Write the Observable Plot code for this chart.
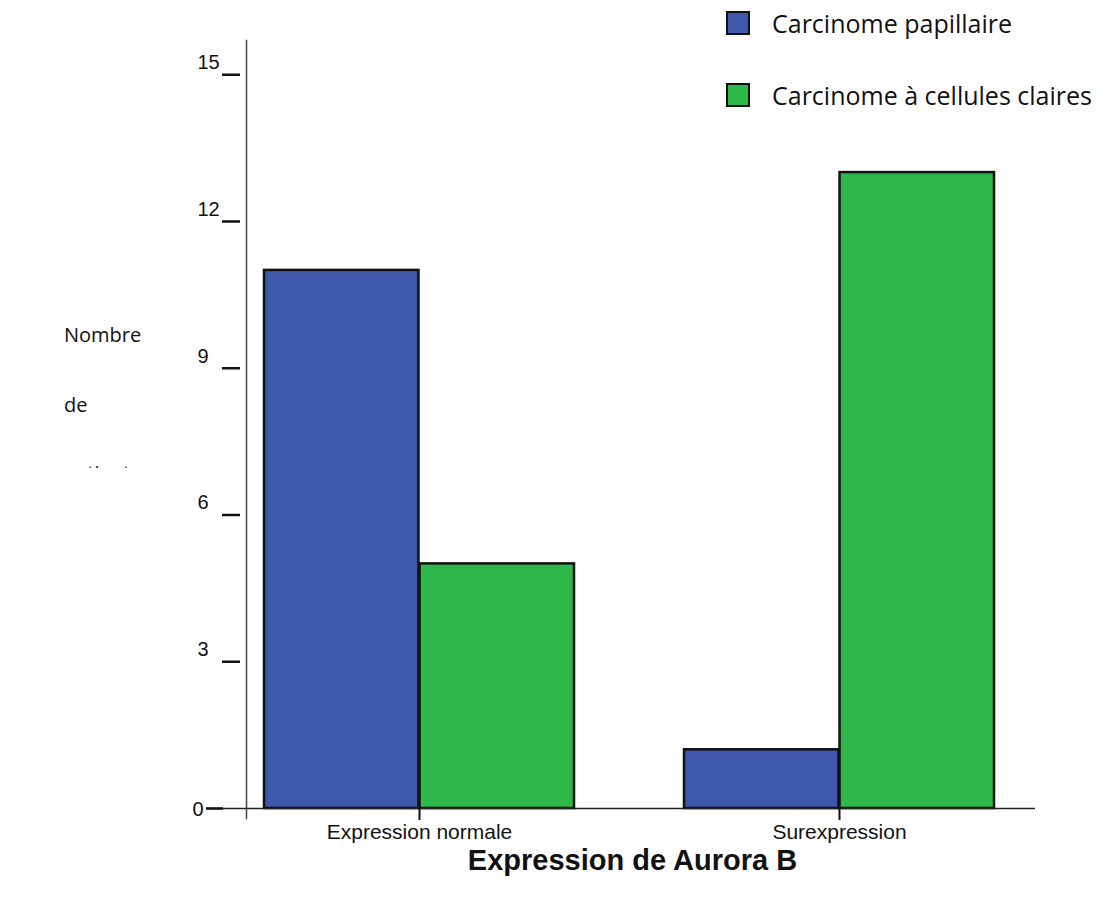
<!DOCTYPE html>
<html>
<head>
<meta charset="utf-8">
<script src="https://cdn.jsdelivr.net/npm/d3@7"></script>
<script src="https://cdn.jsdelivr.net/npm/@observablehq/plot@0.6"></script>
<style>
  body { margin: 0; background: #fff; }
  #wrap { position: relative; width: 1103px; height: 905px; overflow: hidden; }
  #chart svg { display: block; }
  .legend { position: absolute; left: 726px; font-family: "Open Sans", sans-serif; font-size: 25px; color: #111; }
  .legend .item { position: absolute; left: 0; white-space: nowrap; display: flex; align-items: center; }
  .legend .sw { width: 20px; height: 20px; border: 2.5px solid #111; margin-right: 22px; }
  .ylab { position: absolute; left: 64px; font-family: "Open Sans", sans-serif; font-size: 20px; color: #111; white-space: nowrap; }
  .title { position: absolute; left: 0; width: 1103px; top: 844px; text-align: center; font-family: "Liberation Sans", Arial, sans-serif; font-weight: bold; font-size: 29px; color: #111; padding-left: 162px; box-sizing: border-box; }
</style>
</head>
<body>
<div id="wrap">
  <div id="chart"></div>
  <div class="legend" id="legend"></div>
  <div class="ylab" style="top:321px;">Nombre</div>
  <div class="ylab" style="top:391px;">de</div>
  <div class="ylab" style="top:462px; height:6px; overflow:hidden;"><div style="margin-top:-3px;">patients</div></div>
  <div class="title">Expression de Aurora B</div>
</div>
<script>
const groups = ["Expression normale", "Surexpression"];
const series = ["Carcinome papillaire", "Carcinome à cellules claires"];
const papillaire = [11, 1.2];
const cellulesClaires = [5, 13];
const yTicks = [0, 3, 6, 9, 12, 15];
const colors = ["#3d57aa", "#2eb84a"];

const rows = groups.flatMap((g, i) => [
  {group: g, series: series[0], value: papillaire[i]},
  {group: g, series: series[1], value: cellulesClaires[i]}
]);

const xRange = [263, 995];
const padInner = 0.261;
const step = (xRange[1] - xRange[0]) / (groups.length - padInner);
const half = step * (1 - padInner) / 2;

const chart = Plot.plot({
  width: 1103,
  height: 845,
  marginLeft: 246,
  marginRight: 68,
  marginTop: 40,
  marginBottom: 37,
  style: {fontFamily: "'Liberation Sans', Arial, sans-serif", color: "#111"},
  x: {type: "band", domain: groups, range: xRange, paddingInner: padInner, paddingOuter: 0},
  y: {domain: [0, 15.7]},
  color: {domain: series, range: colors},
  marks: [
    Plot.barY(rows.filter(d => d.series === series[0]), {x: "group", y: "value", fill: "series", stroke: "#111", strokeWidth: 2.5, insetRight: half}),
    Plot.barY(rows.filter(d => d.series === series[1]), {x: "group", y: "value", fill: "series", stroke: "#111", strokeWidth: 2.5, insetLeft: half}),
    Plot.ruleY([0], {stroke: "#222", strokeWidth: 1.3, insetLeft: -40}),
    Plot.frame({anchor: "left", stroke: "#444", strokeWidth: 1.5, insetBottom: -10}),
    Plot.axisY({ticks: yTicks.filter(t => t > 0), tickSize: 18, dx: -6, tickFormat: () => "", strokeWidth: 2.5, label: null}),
    Plot.axisY({ticks: [0], tickSize: 17, dx: -23, tickFormat: () => "", strokeWidth: 2.5, label: null}),
    Plot.axisY({ticks: yTicks.filter(t => t > 0), tickSize: 0, tickPadding: 0, dx: -49, dy: -12, textAnchor: "start", fontSize: 20, label: null}),
    Plot.axisY({ticks: [0], tickSize: 0, tickPadding: 0, dx: -54, dy: 1, textAnchor: "start", fontSize: 20, label: null}),
    Plot.axisX({tickSize: 12, tickPadding: 4, fontSize: 21, strokeWidth: 2, label: null})
  ]
});
document.getElementById("chart").appendChild(chart);

const legend = document.getElementById("legend");
series.forEach((s, i) => {
  const item = document.createElement("div");
  item.className = "item";
  item.style.top = (i === 0 ? 0 : 72) + "px";
  const sw = document.createElement("div");
  sw.className = "sw";
  sw.style.background = colors[i];
  const label = document.createElement("span");
  label.textContent = s;
  item.appendChild(sw);
  item.appendChild(label);
  legend.appendChild(item);
});
legend.style.top = "6px";
</script>
</body>
</html>
